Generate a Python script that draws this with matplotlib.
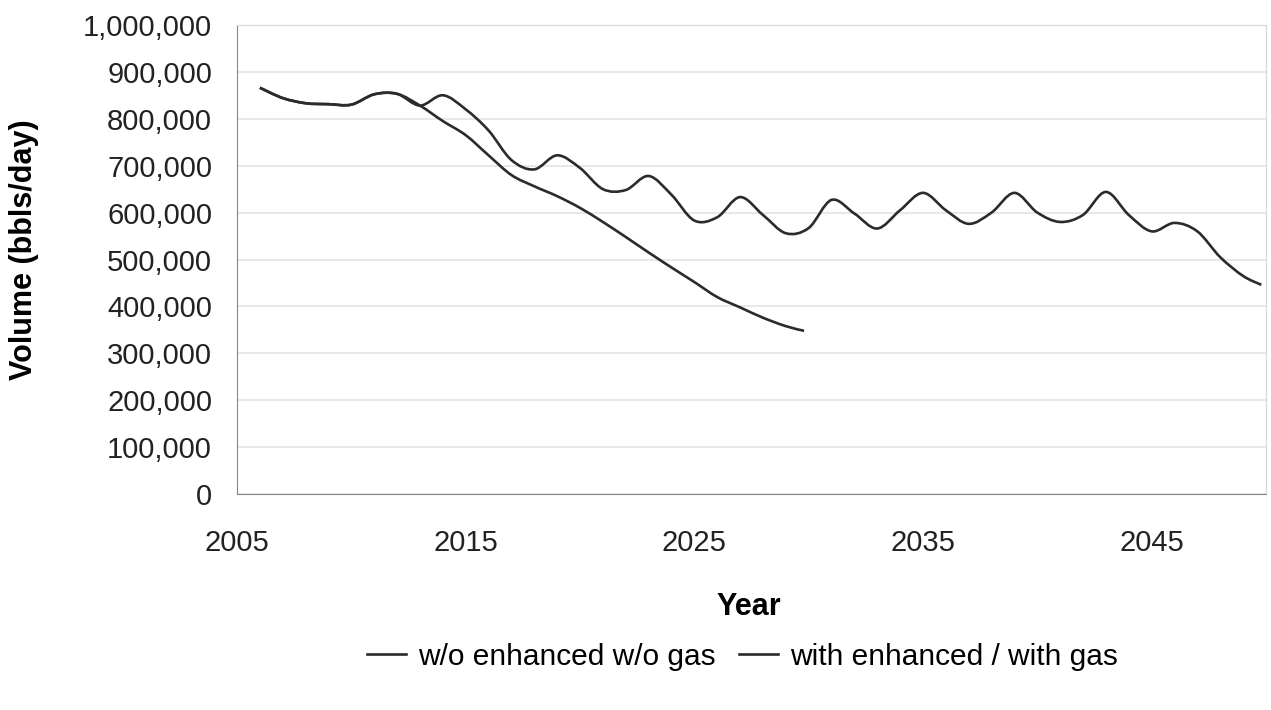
import numpy as np
import matplotlib
matplotlib.use("Agg")
import matplotlib.pyplot as plt
from matplotlib.path import Path
from matplotlib.patches import PathPatch
from matplotlib.lines import Line2D
from matplotlib.ticker import FuncFormatter

plt.rcParams['font.family'] = ['Liberation Sans', 'DejaVu Sans']

# data (bbls/day)
years_without = [2006, 2007, 2008, 2009, 2010, 2011, 2012, 2013, 2014, 2015,
                 2016, 2017, 2018, 2019, 2020, 2021, 2022, 2023, 2024, 2025,
                 2026, 2027, 2028, 2029, 2029.8]
without_gas = [866000, 844000, 833000, 831000, 830000, 852000, 853000, 828000,
               795000, 765000, 722000, 680000, 656000, 635000, 610000, 580000,
               548000, 515000, 483000, 452000, 420000, 398000, 376000, 358000,
               348000]

years_with = [2006, 2007, 2008, 2009, 2010, 2011, 2012, 2013, 2014, 2015,
              2016, 2017, 2018, 2019, 2020, 2021, 2022, 2023, 2024, 2025,
              2026, 2027, 2028, 2029, 2030, 2031, 2032, 2033, 2034, 2035,
              2036, 2037, 2038, 2039, 2040, 2041, 2042, 2043, 2044, 2045,
              2046, 2047, 2048, 2049, 2049.8]
with_gas = [866000, 844000, 833000, 831000, 830000, 852000, 853000, 828000,
            850000, 820000, 775000, 712000, 692000, 722000, 695000, 650000,
            648000, 678000, 638000, 583000, 590000, 633000, 595000, 556000,
            567000, 627000, 598000, 566000, 605000, 642000, 605000, 576000,
            600000, 642000, 600000, 580000, 595000, 644000, 595000, 560000,
            578000, 560000, 505000, 465000, 446000]

labels = ["w/o enhanced w/o gas", "with enhanced / with gas"]
line_color = "#2b2b2b"


def smooth_path(xs, ys):
    # smoothed line like the spreadsheet one: cubic bezier through every point
    p = np.column_stack([xs, ys]).astype(float)
    verts = [p[0]]
    codes = [Path.MOVETO]
    for i in range(len(p) - 1):
        p0 = p[i - 1] if i > 0 else p[i]
        p3 = p[i + 2] if i + 2 < len(p) else p[i + 1]
        c1 = p[i] + (p[i + 1] - p0) / 6
        c2 = p[i + 1] - (p3 - p[i]) / 6
        verts += [c1, c2, p[i + 1]]
        codes += [Path.CURVE4] * 3
    return Path(verts, codes)


fig = plt.figure(figsize=(12.71, 7.10), dpi=100)
ax = fig.add_axes([0.1865, 0.304, 0.8095, 0.661])

for xs, ys in [(years_without, without_gas), (years_with, with_gas)]:
    ax.add_patch(PathPatch(smooth_path(xs, ys), facecolor="none",
                           edgecolor=line_color, lw=1.9, zorder=3))

ax.set_xlim(2005, 2050)
ax.set_ylim(0, 1000000)
ax.set_xticks([2005, 2015, 2025, 2035, 2045])
ax.set_yticks(np.arange(0, 1000001, 100000))
ax.yaxis.set_major_formatter(FuncFormatter(lambda v, p: f"{int(v):,}"))
ax.tick_params(axis="both", length=0, labelsize=21, colors="#222222")
ax.tick_params(axis="x", pad=25)
ax.tick_params(axis="y", pad=18)
ax.grid(axis="y", color="#e4e4e4", lw=1.2)
ax.set_axisbelow(True)

for side in ["top", "right"]:
    ax.spines[side].set_color("#d8d8d8")
for side in ["left", "bottom"]:
    ax.spines[side].set_color("#888888")

ax.set_xlabel("Year", fontsize=22, fontweight="bold")
ax.set_ylabel("Volume (bbls/day)", fontsize=22, fontweight="bold")
ax.xaxis.set_label_coords(0.497, -0.209)
ax.yaxis.set_label_coords(-0.192, 0.52)

handles = [Line2D([], [], color=line_color, lw=1.9) for _ in labels]
fig.legend(handles, labels, loc="center", bbox_to_anchor=(0.584, 0.075),
           ncol=2, frameon=False, fontsize=21.5, handlelength=1.3,
           handletextpad=0.4, columnspacing=0.8)

fig.savefig("out.png", dpi=100)
